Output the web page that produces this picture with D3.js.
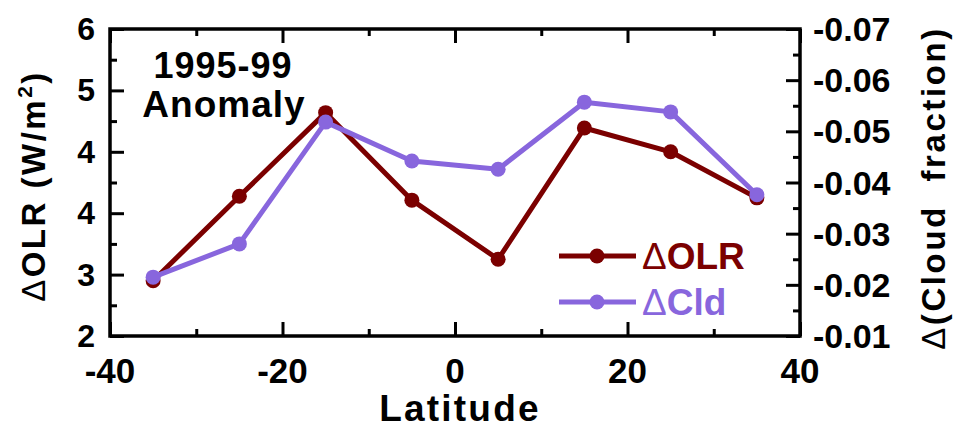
<!DOCTYPE html>
<html>
<head>
<meta charset="utf-8">
<script src="https://cdn.jsdelivr.net/npm/d3@7"></script>
<style>
  html, body { margin: 0; padding: 0; background: #fff; }
  svg { display: block; }
  text { font-family: "Liberation Sans", Arial, Helvetica, sans-serif; font-weight: bold; }
</style>
</head>
<body>
<svg id="chart" width="958" height="434"></svg>
<script>
// ---- data ----
const latitudes = [-35, -25, -15, -5, 5, 15, 25, 35];
const olrValues = [2.72, 3.82, 4.91, 3.77, 3.00, 4.71, 4.40, 3.80];
const cldValues = [-0.0215, -0.028, -0.0518, -0.0442, -0.0426, -0.0557, -0.0538, -0.0376];
const xTicks = [-40, -20, 0, 20, 40];
const xMinorTicks = [-30, -10, 10, 30];
const leftTickValues = [6, 5.2, 4.4, 3.6, 2.8, 2];
const leftTickLabels = ["6", "5", "4", "4", "3", "2"];
const rightTickValues = [-0.07, -0.06, -0.05, -0.04, -0.03, -0.02, -0.01];
const rightTickLabels = ["-0.07", "-0.06", "-0.05", "-0.04", "-0.03", "-0.02", "-0.01"];
const seriesNames = ["\u0394OLR", "\u0394Cld"];
const colors = ["#7b0000", "#8866dd"];

// ---- layout ----
const L = 110, R = 800, T = 29, B = 336;
const svg = d3.select("#chart");

const x = d3.scaleLinear().domain([-40, 40]).range([L, R]);
const yL = d3.scaleLinear().domain([2, 6]).range([B, T]);
const yR = d3.scaleLinear().domain([-0.01, -0.07]).range([B, T]);

const majorLen = 14, minorLen = 7;

const leftMinor = d3.range(leftTickValues.length - 1).map(i => (leftTickValues[i] + leftTickValues[i + 1]) / 2);
const rightMinor = d3.range(rightTickValues.length - 1).map(i => (rightTickValues[i] + rightTickValues[i + 1]) / 2);

const g = svg.append("g");

g.append("g").attr("transform", `translate(0,${B})`)
  .call(d3.axisTop(x).tickValues(xTicks).tickSize(majorLen).tickFormat(""));
g.append("g").attr("transform", `translate(0,${B})`)
  .call(d3.axisTop(x).tickValues(xMinorTicks).tickSize(minorLen).tickFormat(""));
g.append("g").attr("transform", `translate(0,${T})`)
  .call(d3.axisBottom(x).tickValues(xTicks).tickSize(majorLen).tickFormat(""));
g.append("g").attr("transform", `translate(0,${T})`)
  .call(d3.axisBottom(x).tickValues(xMinorTicks).tickSize(minorLen).tickFormat(""));
g.append("g").attr("transform", `translate(${L},0)`)
  .call(d3.axisRight(yL).tickValues(leftTickValues).tickSize(majorLen).tickFormat(""));
g.append("g").attr("transform", `translate(${L},0)`)
  .call(d3.axisRight(yL).tickValues(leftMinor).tickSize(minorLen).tickFormat(""));
g.append("g").attr("transform", `translate(${R},0)`)
  .call(d3.axisLeft(yR).tickValues(rightTickValues).tickSize(majorLen).tickFormat(""));
g.append("g").attr("transform", `translate(${R},0)`)
  .call(d3.axisLeft(yR).tickValues(rightMinor).tickSize(minorLen).tickFormat(""));

g.selectAll(".domain").remove();
g.selectAll(".tick line").attr("stroke", "#000").attr("stroke-width", 3);

// frame
svg.append("rect").attr("x", L).attr("y", T).attr("width", R - L).attr("height", B - T)
  .attr("fill", "none").attr("stroke", "#000").attr("stroke-width", 3.5);

// tick labels
svg.append("g").selectAll("text").data(xTicks).join("text")
  .attr("x", d => x(d)).attr("y", 383).attr("text-anchor", "middle")
  .attr("font-size", 35).attr("fill", "#000").text(d => d);

svg.append("g").selectAll("text").data(leftTickValues).join("text")
  .attr("x", 95).attr("y", d => yL(d) + 11).attr("text-anchor", "end")
  .attr("font-size", 32).attr("fill", "#000").text((d, i) => leftTickLabels[i]);

svg.append("g").selectAll("text").data(rightTickValues).join("text")
  .attr("x", 813).attr("y", d => yR(d) + 12).attr("text-anchor", "start")
  .attr("font-size", 34).attr("fill", "#000").text((d, i) => rightTickLabels[i]);

// axis titles
svg.append("text").attr("x", 460).attr("y", 421).attr("text-anchor", "middle")
  .attr("font-size", 37).attr("letter-spacing", 2.2).attr("fill", "#000").text("Latitude");

const lt = svg.append("text").attr("transform", "translate(45,186) rotate(-90)")
  .attr("text-anchor", "middle").attr("font-size", 33).attr("letter-spacing", 2.5).attr("fill", "#000");
lt.append("tspan").attr("font-weight", "normal").text("\u0394");
lt.append("tspan").text("OLR (W/m");
lt.append("tspan").attr("font-size", 21).attr("dy", -13).text("2");
lt.append("tspan").attr("dy", 13).text(")");

const rt = svg.append("text").attr("transform", "translate(945,188) rotate(-90)")
  .attr("text-anchor", "middle").attr("font-size", 33).attr("letter-spacing", 2.6)
  .attr("fill", "#000").style("white-space", "pre");
rt.append("tspan").attr("font-weight", "normal").text("\u0394");
rt.append("tspan").text("(Cloud  fraction)");

// annotation
svg.append("text").attr("x", 223).attr("y", 78).attr("text-anchor", "middle")
  .attr("font-size", 36).attr("letter-spacing", 1).attr("fill", "#000").text("1995-99");
svg.append("text").attr("x", 224).attr("y", 117).attr("text-anchor", "middle")
  .attr("font-size", 37).attr("letter-spacing", 1).attr("fill", "#000").text("Anomaly");

// series
const olrPts = latitudes.map((d, i) => [x(d), yL(olrValues[i])]);
const cldPts = latitudes.map((d, i) => [x(d), yR(cldValues[i])]);
const line = d3.line();

[olrPts, cldPts].forEach((pts, k) => {
  svg.append("path").attr("d", line(pts)).attr("fill", "none")
    .attr("stroke", colors[k]).attr("stroke-width", 5).attr("stroke-linejoin", "round");
  svg.append("g").selectAll("circle").data(pts).join("circle")
    .attr("cx", d => d[0]).attr("cy", d => d[1]).attr("r", 7.5).attr("fill", colors[k]);
});

// legend
const legY = [256, 302];
seriesNames.forEach((name, k) => {
  const lg = svg.append("g");
  lg.append("line").attr("x1", 559).attr("x2", 636).attr("y1", legY[k]).attr("y2", legY[k])
    .attr("stroke", colors[k]).attr("stroke-width", 5);
  lg.append("circle").attr("cx", 597).attr("cy", legY[k]).attr("r", 7.5).attr("fill", colors[k]);
  const t = lg.append("text").attr("x", 642).attr("y", legY[k] + 13).attr("font-size", 37)
    .attr("fill", colors[k]);
  t.append("tspan").attr("font-weight", "normal").text(name.charAt(0));
  t.append("tspan").text(name.slice(1));
});
</script>
</body>
</html>
